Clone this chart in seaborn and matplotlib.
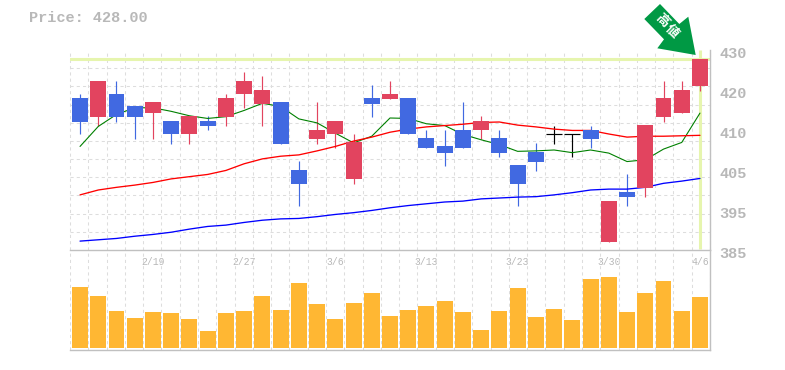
"""Candlestick chart with moving averages and volume."""

import numpy as np
import pandas as pd
import seaborn as sns
import matplotlib.pyplot as plt
from matplotlib.patches import Polygon
from matplotlib.transforms import ScaledTranslation

opens = [419.3, 415.0, 420.2, 417.3, 415.9, 414.1, 411.0, 414.1, 415.0, 420.0, 417.9, 418.2,
         403.1, 410.0, 411.0, 401.0, 419.3, 419.0, 419.3, 410.3, 408.3, 412.1, 411.9, 410.3,
         404.2, 407.0, 411.1, 411.0, 412.0, 386.8, 398.0, 399.0, 414.9, 415.8, 421.9]
closes = [413.9, 423.1, 415.0, 415.0, 418.2, 411.0, 415.2, 413.0, 419.3, 423.1, 421.1, 408.9,
          399.9, 412.1, 414.1, 409.2, 417.9, 420.2, 411.0, 408.0, 406.9, 408.0, 414.1, 406.9,
          399.9, 404.8, 411.1, 411.0, 410.0, 396.0, 396.9, 413.1, 419.2, 421.0, 428.0]
highs = [420.2, 423.1, 423.1, 417.3, 418.2, 414.1, 415.2, 415.2, 420.2, 425.1, 424.2, 418.2,
         405.1, 418.2, 414.1, 411.2, 422.2, 423.1, 419.3, 412.1, 412.1, 418.2, 415.2, 412.1,
         404.2, 409.0, 413.0, 411.0, 413.0, 396.0, 402.1, 413.1, 423.0, 423.0, 428.0]
lows = [411.0, 413.0, 413.9, 410.0, 410.0, 408.9, 408.9, 411.9, 413.0, 417.0, 413.0, 408.9,
        395.0, 408.9, 408.0, 399.9, 415.0, 419.0, 411.0, 408.0, 404.0, 408.0, 410.0, 406.0,
        395.0, 402.8, 408.9, 406.0, 408.0, 386.8, 394.9, 396.9, 413.8, 415.8, 420.8]
ma_short = [408.3, 412.8, 415.5, 417.0, 417.0, 416.2, 415.2, 414.6, 415.0, 416.4, 418.0, 417.3,
            414.5, 413.6, 411.3, 409.1, 410.6, 414.7, 414.6, 413.4, 413.0, 411.0, 409.8, 408.7,
            407.2, 407.3, 407.5, 406.9, 407.5, 406.8, 404.9, 405.3, 407.7, 409.2, 415.8]
ma_mid = [397.4, 398.5, 399.1, 399.6, 400.2, 401.0, 401.5, 402.0, 402.9, 404.4, 405.5, 406.1,
          406.4, 407.3, 408.3, 409.5, 410.4, 411.5, 412.2, 412.7, 413.0, 413.3, 413.7, 413.8,
          413.1, 412.7, 412.2, 411.9, 411.9, 411.1, 410.4, 410.6, 410.6, 410.7, 410.8]
ma_long = [387.0, 387.3, 387.6, 388.1, 388.5, 389.0, 389.7, 390.3, 390.6, 391.2, 391.7, 392.0,
           392.1, 392.5, 393.0, 393.4, 393.9, 394.5, 395.0, 395.4, 395.8, 396.0, 396.5, 396.7,
           396.9, 397.0, 397.4, 397.9, 398.5, 398.7, 398.7, 399.1, 400.0, 400.5, 401.1]
volumes = [61, 52, 37, 30, 36, 35, 29, 17, 35, 37, 52, 38, 65, 44, 29, 45, 55, 32,
           38, 42, 47, 36, 18, 37, 60, 31, 39, 28, 69, 71, 36, 55, 67, 37, 51]
date_pos = [4, 9, 14, 19, 24, 29, 34]
date_labels = ["2/19", "2/27", "3/6", "3/13", "3/23", "3/30", "4/6"]
price_ticks = [430, 421, 412, 403, 394, 385]
price_labels = ["430", "420", "410", "405", "395", "385"]
last_price = 428.0

UP = "#e2445f"
DOWN = "#4169e1"
FLAT = "#000000"
VOL = "#ffb733"
HILITE = "#e6f5ae"
FRAME = "#c0c0c0"
GRID = "#dddddd"
TEXT = "#b8b8b8"
DASH = (0, (3, 3))

sns.set_style("white")
plt.rcParams["font.family"] = ["Liberation Mono", "Noto Sans CJK JP", "DejaVu Sans"]

df = pd.DataFrame({"open": opens, "close": closes, "high": highs, "low": lows,
                   "short": ma_short, "mid": ma_mid, "long": ma_long, "volume": volumes})
df["x"] = df.index
df["top"] = df[["open", "close"]].max(axis=1)
df["bottom"] = df[["open", "close"]].min(axis=1)

W, H = 785, 370
fig = plt.figure(figsize=(W / 100, H / 100), dpi=100)
ax = fig.add_axes([70 / W, 1 - 250 / H, 640 / W, 200 / H])
ax_vol = fig.add_axes([70 / W, 1 - 350 / H, 640 / W, 100 / H])

grid_x = np.arange(36) * 35.1 / 35 - 0.55
grid_y = np.linspace(385, 430, 12)


def style_panel(a):
    a.set_xlim(-0.55, 34.55)
    a.set_xticks(grid_x, minor=True)
    a.grid(True, which="minor", axis="x", color=GRID, linestyle=DASH, linewidth=0.75)
    a.set_axisbelow(True)
    a.tick_params(which="both", length=0)
    for side in ["left", "top", "right", "bottom"]:
        a.spines[side].set_visible(False)


style_panel(ax)
ax.set_ylim(385, 430)
ax.set_yticks(grid_y, minor=True)
ax.grid(True, which="minor", axis="y", color=GRID, linestyle=DASH, linewidth=0.75)
for tick in ax.yaxis.get_minor_ticks() + ax.xaxis.get_minor_ticks():
    tick.gridline.set_clip_on(False)
ax.set_xticks([])
ax.yaxis.tick_right()
ax.set_yticks(price_ticks, price_labels, fontsize=11, color=TEXT, fontweight="bold")
ax.tick_params(axis="y", which="major", pad=7)
shift = ScaledTranslation(0, -3 / 100, fig.dpi_scale_trans)
for lab in ax.get_yticklabels():
    lab.set_transform(lab.get_transform() + shift)

ax.axhline(last_price, color=HILITE, linewidth=2.2, zorder=1.5)
ax.vlines(34, 385.3, 430, color=HILITE, linewidth=2.2, zorder=1.5)

# wicks and bodies
colors = [UP if c > o else DOWN if c < o else FLAT for o, c in zip(opens, closes)]
ax.vlines(df["x"], df["low"], df["high"], colors=colors, linewidth=0.85, zorder=2)
flat = df["top"] == df["bottom"]
ax.bar(df["x"][~flat], (df["top"] - df["bottom"])[~flat], bottom=df["bottom"][~flat],
       width=0.875, color=[c for c, f in zip(colors, flat) if not f], linewidth=0, zorder=3)
ax.hlines(df["open"][flat], df["x"][flat] - 0.44, df["x"][flat] + 0.44, colors=FLAT,
          linewidth=0.85, zorder=3)

sns.lineplot(data=df, x="x", y="short", color="#008000", linewidth=0.8, ax=ax, zorder=2.5)
sns.lineplot(data=df, x="x", y="mid", color="#ff0000", linewidth=0.95, ax=ax, zorder=2.5)
sns.lineplot(data=df, x="x", y="long", color="#0000ff", linewidth=0.95, ax=ax, zorder=2.5)
ax.set_xlabel("")
ax.set_ylabel("")

style_panel(ax_vol)
ax_vol.bar(df["x"], df["volume"], width=0.875, color=VOL, linewidth=0, zorder=3)
ax_vol.set_ylim(-2.3, 97.7)
ax_vol.set_yticks([])
ax_vol.xaxis.tick_top()
ax_vol.set_xticks(date_pos, date_labels, fontsize=7, color=TEXT)
ax_vol.tick_params(axis="x", which="major", pad=-12)
for side in ["top", "bottom", "right"]:
    ax_vol.spines[side].set_visible(True)
    ax_vol.spines[side].set_color(FRAME)
    ax_vol.spines[side].set_linewidth(1)
ax.spines["right"].set_visible(True)
ax.spines["right"].set_color(FRAME)
ax.spines["right"].set_linewidth(1)

fig.text(29 / W, 1 - 18 / H, "Price: 428.00", color=TEXT, fontsize=11, fontweight="bold",
         va="center", ha="left")

# marker pointing at the high
arrow_px = [(695.7, 55), (688.3, 16.7), (679.3, 24), (660, 4), (644.3, 19), (664, 39.3), (657.3, 48.3)]
arrow = [(x / W, 1 - y / H) for x, y in arrow_px]
fig.add_artist(Polygon(arrow, closed=True, transform=fig.transFigure, facecolor="#009944",
                       edgecolor="none", zorder=5))
fig.text(661.5 / W, 1 - 20.5 / H, "高", color="white", fontsize=9.5, fontweight="bold", rotation=-45,
         ha="center", va="center", zorder=6)
fig.text(671.5 / W, 1 - 31.5 / H, "値", color="white", fontsize=9.5, fontweight="bold", rotation=-45,
         ha="center", va="center", zorder=6)

fig.savefig("out.png", dpi=100, facecolor="white")
